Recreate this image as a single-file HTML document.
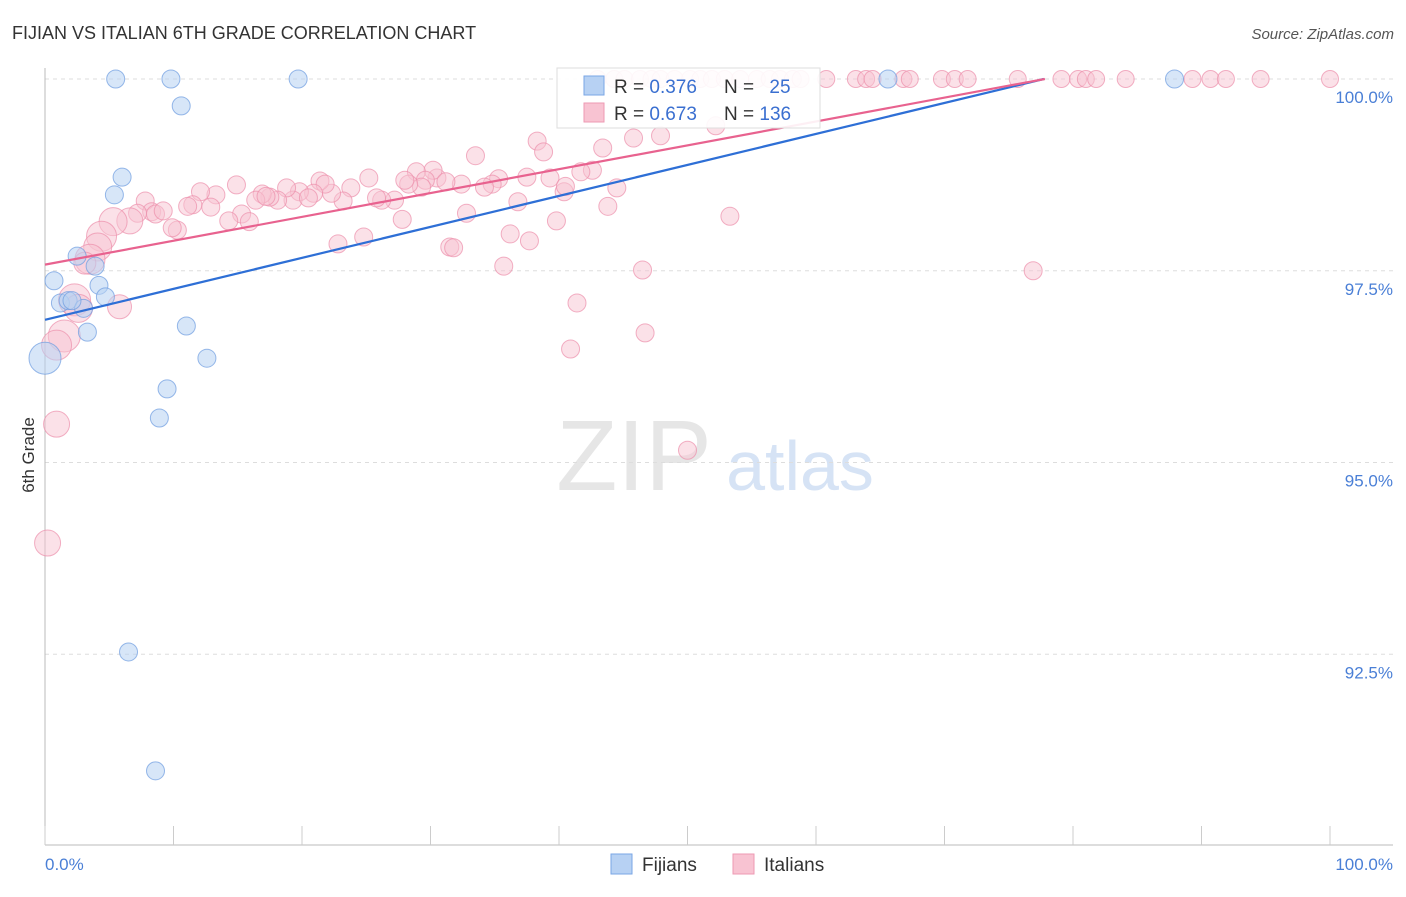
<!DOCTYPE html>
<html><head><meta charset="utf-8"><style>
body{margin:0;background:#fff;font-family:"Liberation Sans",sans-serif;}
svg text{font-family:"Liberation Sans",sans-serif;}
</style></head><body>
<svg id="chart" width="1406" height="892" viewBox="0 0 1406 892">
<text x="12" y="39" font-size="18" fill="#333">FIJIAN VS ITALIAN 6TH GRADE CORRELATION CHART</text>
<text x="1394" y="39" font-size="15" fill="#555" font-style="italic" text-anchor="end">Source: ZipAtlas.com</text>
<text x="634" y="490" font-size="100" fill="#e6e6e6" font-family="Liberation Serif" text-anchor="middle">ZIP</text>
<text x="800" y="490" font-size="70" fill="#d6e3f5" text-anchor="middle">atlas</text>
<g id="grid"></g>
<g id="axes"></g>
<g id="marks"></g>
<g id="lines"></g>
<text transform="translate(34,455) rotate(-90)" font-size="17" fill="#333" text-anchor="middle">6th Grade</text>
<g>
<rect x="557" y="68" width="263" height="60" fill="#fff" fill-opacity="0.9" stroke="#ddd"/>
<rect x="584" y="76" width="20" height="19" fill="#b7d1f3" stroke="#7aa6e6"/>
<rect x="584" y="103" width="20" height="19" fill="#f8c3d2" stroke="#ee9ab3"/>
<text x="614" y="93" font-size="19" fill="#333">R = <tspan fill="#3a6fd0">0.376</tspan></text>
<text x="724" y="93" font-size="19" fill="#333">N = <tspan fill="#3a6fd0" dx="10">25</tspan></text>
<text x="614" y="120" font-size="19" fill="#333">R = <tspan fill="#3a6fd0">0.673</tspan></text>
<text x="724" y="120" font-size="19" fill="#333">N = <tspan fill="#3a6fd0">136</tspan></text>
</g>
<g>
<rect x="611" y="854" width="21" height="20" fill="#b7d1f3" stroke="#7aa6e6"/>
<text x="642" y="871" font-size="19" fill="#333">Fijians</text>
<rect x="733" y="854" width="21" height="20" fill="#f8c3d2" stroke="#ee9ab3"/>
<text x="764" y="871" font-size="19" fill="#333">Italians</text>
</g>
</svg>
<script>
const yTicks=[100,97.5,95,92.5];
const yTickLabels=["100.0%","97.5%","95.0%","92.5%"];
const xTicks=[0,10,20,30,40,50,60,70,80,90,100];
const fijX=[5.5,9.8,19.7,65.6,87.9,10.6,6.0,5.4,2.5,3.9,0.7,4.2,4.7,1.2,1.8,3.0,3.3,11.0,12.6,9.5,8.9,0,6.5,8.6,2.1];
const fijY=[100,100,100,100,100,99.65,98.72,98.49,97.69,97.56,97.37,97.31,97.16,97.08,97.11,97.01,96.70,96.78,96.36,95.96,95.58,96.36,92.53,90.98,97.11];
const fijR=[9,9,9,9,9,9,9,9,9,9,9,9,9,9,9,9,9,9,9,9,9,16,9,9,9];
const itaTopX=[43.0,44.3,45.1,46.3,47.2,47.9,49.0,50.2,51.0,51.9,52.9,54.1,55.4,56.4,57.2,58.2,58.8,60.8,63.1,63.9,64.4,66.8,67.3,69.8,70.8,71.8,75.7,79.1,80.4,81.0,81.8,84.1,89.3,90.7,91.9,94.6,100];
const itaX=[38.3,38.8,33.5,43.4,45.8,47.9,52.2,42.6,41.7,39.3,37.5,35.3,34.8,34.2,32.4,30.5,30.2,28.9,29.6,29.3,28.3,27.2,26.2,25.8,25.2,23.8,23.2,22.3,21.4,21.8,20.9,19.8,19.3,18.8,18.1,17.5,16.9,16.4,14.9,15.3,15.9,14.3,13.3,12.1,12.9,11.5,11.1,10.3,9.9,7.8,8.3,7.2,6.6,5.3,4.4,4.1,3.5,3.1,2.3,2.6,1.5,0.9,5.8,0.9,0.2,27.8,32.8,36.8,40.4,43.8,44.5,39.8,36.2,37.7,31.5,31.8,22.8,24.8,35.7,46.5,41.4,40.9,46.7,53.3,76.9,50.0,40.5,8.6,9.2,20.5,17.2,31.2,28.0];
const itaY=[99.19,99.05,99.00,99.10,99.23,99.26,99.39,98.81,98.79,98.71,98.72,98.70,98.63,98.59,98.63,98.71,98.81,98.79,98.68,98.59,98.63,98.42,98.42,98.45,98.71,98.58,98.41,98.51,98.67,98.63,98.51,98.53,98.42,98.58,98.42,98.46,98.50,98.42,98.62,98.24,98.14,98.15,98.49,98.53,98.33,98.36,98.34,98.03,98.06,98.41,98.27,98.25,98.15,98.14,97.95,97.81,97.65,97.60,97.12,97.01,96.65,96.53,97.03,95.50,93.95,98.17,98.25,98.40,98.53,98.34,98.58,98.15,97.98,97.89,97.81,97.80,97.85,97.94,97.56,97.51,97.08,96.48,96.69,98.21,97.50,95.16,98.60,98.24,98.28,98.45,98.47,98.66,98.68];
const itaR=[9,9,9,9,9,9,9,9,9,9,9,9,9,9,9,9,9,9,9,9,9,9,9,9,9,9,9,9,9,9,9,9,9,9,9,9,9,9,9,9,9,9,9,9,9,9,9,9,9,9,9,9,13,14,15,14,15,11,16,14,16,15,12,13,13,9,9,9,9,9,9,9,9,9,9,9,9,9,9,9,9,9,9,9,9,9,9,9,9,9,9,9,9];
const fijTrend=[96.86,0.0404];
const itaTrend=[97.58,0.0311];
const X=v=>45+v*12.85;
const Y=v=>79+(100-v)*76.7;
const NS="http://www.w3.org/2000/svg";
function mk(tag,attrs,parent){const e=document.createElementNS(NS,tag);for(const k in attrs)e.setAttribute(k,attrs[k]);document.getElementById(parent).appendChild(e);return e;}
yTicks.forEach((t,i)=>{
 const g=mk('line',{x1:45,x2:1393,y1:Y(t),y2:Y(t),stroke:'#ddd','stroke-dasharray':'4,4'},'grid');
 
 
 const l=mk('text',{x:1393,y:Y(t)+24,'font-size':17,fill:'#4a7fd6','text-anchor':'end'},'grid');
 l.textContent=yTickLabels[i];
 
 
});
const ax=mk('line',{x1:45,x2:45,y1:68,y2:845,stroke:'#bbb'},'axes');


const bx=mk('line',{x1:45,x2:1393,y1:845,y2:845,stroke:'#bbb'},'axes');


xTicks.forEach(t=>{
 const tk=mk('line',{x1:X(t),x2:X(t),y1:826,y2:845,stroke:'#ccc'},'axes');
 
 
});
const xl=mk('text',{x:45,y:870,'font-size':17,fill:'#4a7fd6'},'axes');xl.textContent='0.0%';


const xr=mk('text',{x:1393,y:870,'font-size':17,fill:'#4a7fd6','text-anchor':'end'},'axes');xr.textContent='100.0%';


itaTopX.forEach(x=>{
 const c=mk('circle',{cx:X(x),cy:Y(100),r:8.5,fill:'#f8c3d2','fill-opacity':0.5,stroke:'#ec8fab','stroke-opacity':0.7},'marks');
 
 
});
itaX.forEach((x,i)=>{
 const c=mk('circle',{cx:X(x),cy:Y(itaY[i]),r:itaR[i],fill:'#f8c3d2','fill-opacity':0.5,stroke:'#ec8fab','stroke-opacity':0.7},'marks');
 
 
});
fijX.forEach((x,i)=>{
 const c=mk('circle',{cx:X(x),cy:Y(fijY[i]),r:fijR[i],fill:'#b7d1f3','fill-opacity':0.55,stroke:'#6c9be0','stroke-opacity':0.7},'marks');
 
 
});
function trend(tr,color,name){
 const xEnd=(100-tr[0])/tr[1];
 const l=mk('line',{x1:X(0),y1:Y(tr[0]),x2:X(xEnd),y2:Y(100),stroke:color,'stroke-width':2.2},'lines');
 
 
}
trend(fijTrend,'#2e6fd6','fijian-trend-line');
trend(itaTrend,'#e8628f','italian-trend-line');
</script>
</body></html>
